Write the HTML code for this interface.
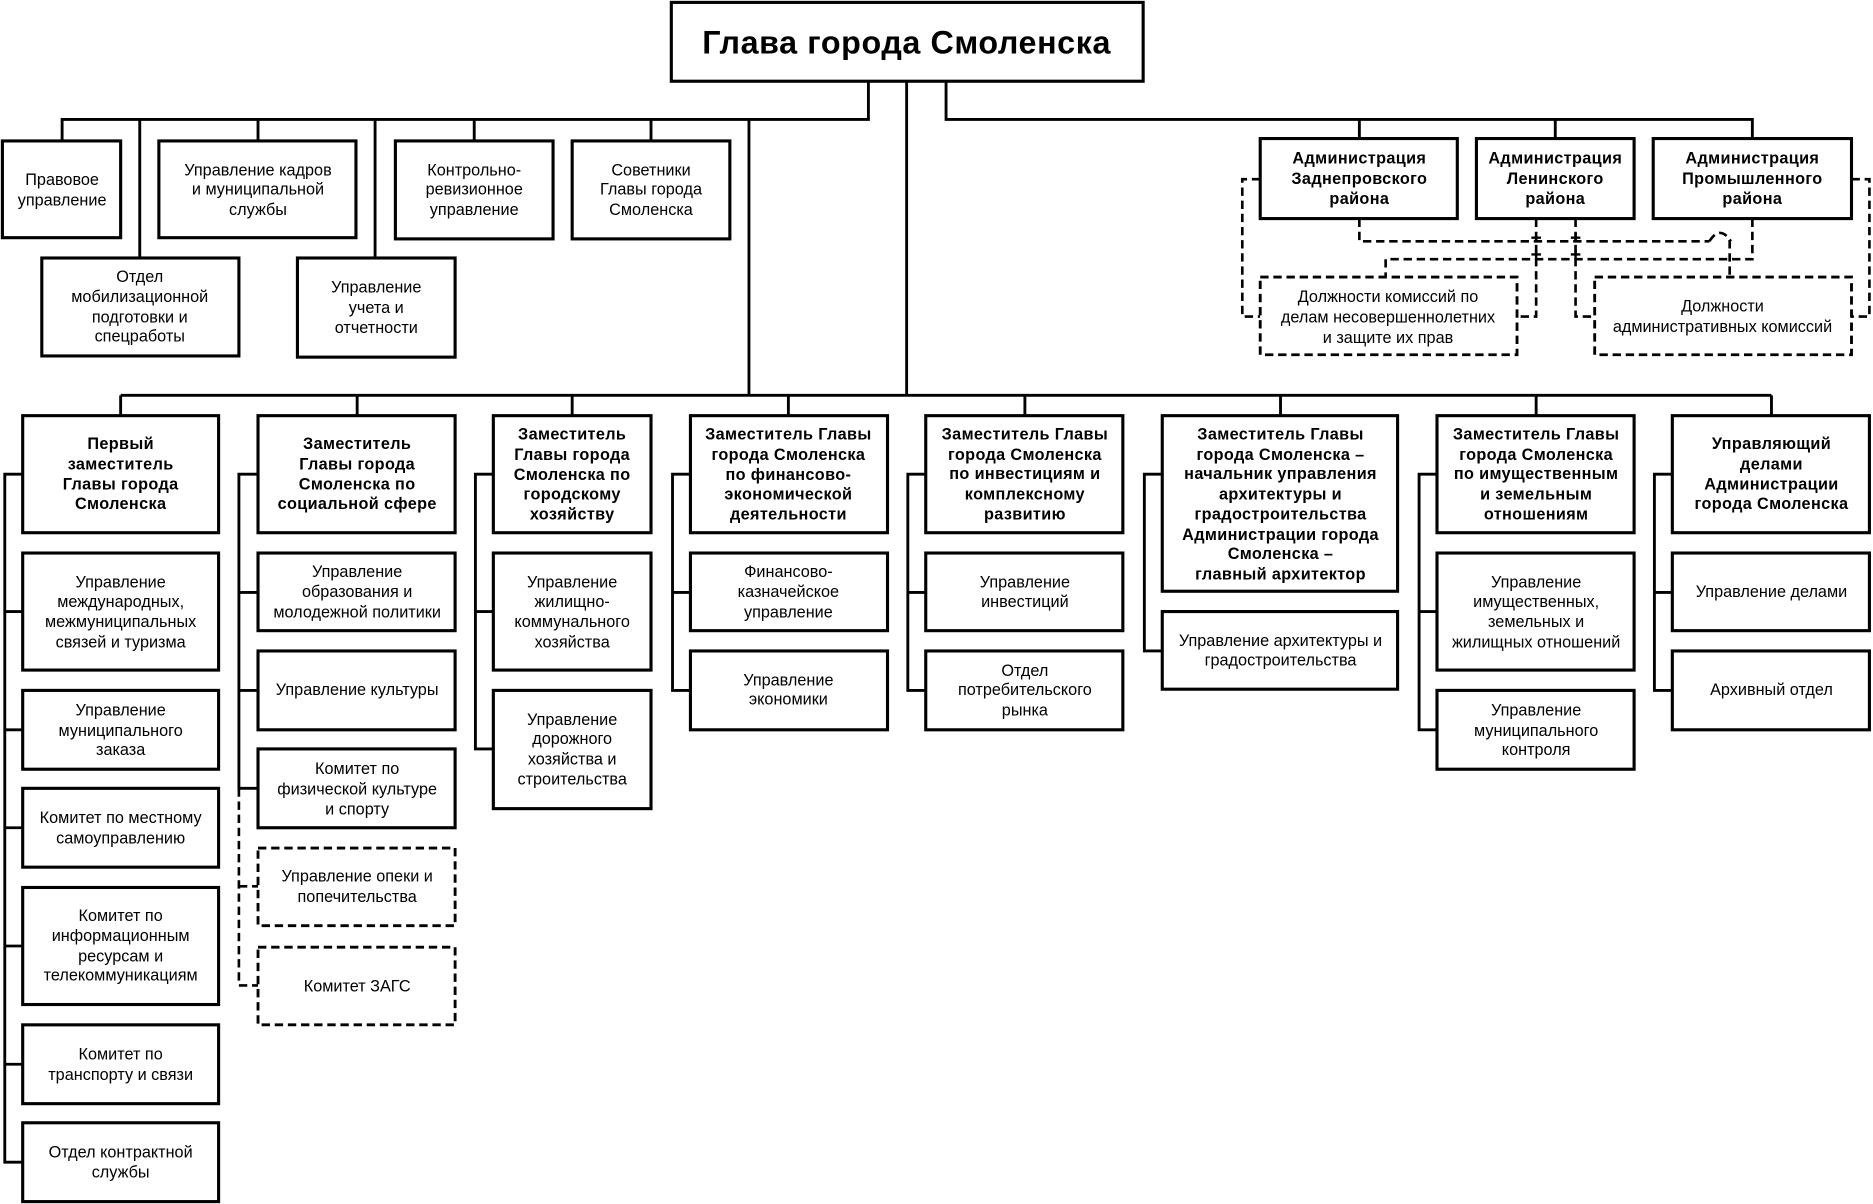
<!DOCTYPE html>
<html><head><meta charset="utf-8"><style>
html,body{margin:0;padding:0;background:#fff;width:1873px;height:1204px;overflow:hidden}
svg{display:block}
text{font-family:"Liberation Sans",Arial,sans-serif;font-size:13.6px;fill:#000;text-anchor:middle}
.b{font-weight:bold;letter-spacing:0.3px}
.bx{fill:#fff;stroke:#000;stroke-width:2.6}
.d{fill:#fff;stroke:#000;stroke-width:2.4;stroke-dasharray:7,4}
.l{fill:none;stroke:#000;stroke-width:2.4}
.dl{fill:none;stroke:#000;stroke-width:2.2;stroke-dasharray:7,4}
</style></head><body>
<svg width="1873" height="1204" viewBox="0 0 1568 1008" preserveAspectRatio="none">
<!-- top connectors -->
<path class="l" d="M727 68V100H52V118M117 100V216M216 100V118M314 100V216M397 100V118M545 100V118M627 100V331M759 68V331M792 68V100H1467V116M1138 100V116M1302 100V116"/>
<path class="l" d="M101 331H1483M101 331V348M299 331V348M479 331V348M660 331V348M858 331V348M1072 331V348M1286 331V348M1483 331V348"/>
<!-- spines -->
<path class="l" d="M19 397H4V973H19M4 512H19M4 611H19M4 693H19M4 792H19M4 891H19"/>
<path class="l" d="M216 397H200V660H216M200 496H216M200 578H216"/>
<path class="dl" d="M200 660V825H216M200 742H216"/>
<path class="l" d="M413 397H398V627H413M398 512H413"/>
<path class="l" d="M578 397H563V578H578M563 496H578"/>
<path class="l" d="M775 397H760V578H775M760 496H775"/>
<path class="l" d="M973 397H958V545H973"/>
<path class="l" d="M1203 397H1188V611H1203M1188 512H1203"/>
<path class="l" d="M1400 397H1385V578H1400M1385 496H1400"/>
<!-- right dashed connectors -->
<path class="dl" d="M1138 183V202H1431M1449 202H1448V232M1431 202q9 -14 18 0"/>
<path class="dl" d="M1467 183V217H1160V232"/>
<path class="dl" d="M1286 183V265H1270M1319 183V265H1335"/>
<path class="dl" d="M1055 150H1040V265H1055M1550 150H1565V265H1550"/>
<path d="M1282 199h8M1286 195v8M1315 199h8M1319 195v8M1282 213h8M1286 209v8M1315 213h8M1319 209v8" stroke="#000" stroke-width="2"/>
<!-- top box -->
<rect class="bx" x="562" y="2" width="395" height="66"/>
<text class="b" x="759" y="45" style="font-size:27px;letter-spacing:0.5px">Глава города Смоленска</text>
<!-- top-left boxes -->
<rect class="bx" x="2" y="118" width="99" height="81"/><text x="52" y="155">Правовое</text><text x="52" y="172">управление</text>
<rect class="bx" x="35" y="216" width="165" height="82"/><text x="117" y="236">Отдел</text><text x="117" y="253">мобилизационной</text><text x="117" y="270">подготовки и</text><text x="117" y="286">спецработы</text>
<rect class="bx" x="133" y="118" width="165" height="81"/><text x="216" y="147">Управление кадров</text><text x="216" y="163">и муниципальной</text><text x="216" y="180">службы</text>
<rect class="bx" x="249" y="216" width="132" height="83"/><text x="315" y="245">Управление</text><text x="315" y="262">учета и</text><text x="315" y="279">отчетности</text>
<rect class="bx" x="331" y="118" width="132" height="82"/><text x="397" y="147">Контрольно-</text><text x="397" y="163">ревизионное</text><text x="397" y="180">управление</text>
<rect class="bx" x="479" y="118" width="132" height="82"/><text x="545" y="147">Советники</text><text x="545" y="163">Главы города</text><text x="545" y="180">Смоленска</text>
<!-- districts -->
<rect class="bx" x="1055" y="116" width="165" height="67"/><text class="b" x="1138" y="137">Администрация</text><text class="b" x="1138" y="154">Заднепровского</text><text class="b" x="1138" y="171">района</text>
<rect class="bx" x="1236" y="116" width="132" height="67"/><text class="b" x="1302" y="137">Администрация</text><text class="b" x="1302" y="154">Ленинского</text><text class="b" x="1302" y="171">района</text>
<rect class="bx" x="1384" y="116" width="166" height="67"/><text class="b" x="1467" y="137">Администрация</text><text class="b" x="1467" y="154">Промышленного</text><text class="b" x="1467" y="171">района</text>
<rect class="d" x="1055" y="232" width="215" height="65"/><text x="1162" y="253">Должности комиссий по</text><text x="1162" y="270">делам несовершеннолетних</text><text x="1162" y="287">и защите их прав</text>
<rect class="d" x="1335" y="232" width="215" height="65"/><text x="1442" y="261">Должности</text><text x="1442" y="278">административных комиссий</text>
<!-- col1 -->
<rect class="bx" x="19" y="348" width="164" height="98"/><text class="b" x="101" y="376">Первый</text><text class="b" x="101" y="393">заместитель</text><text class="b" x="101" y="410">Главы города</text><text class="b" x="101" y="426">Смоленска</text>
<rect class="bx" x="19" y="463" width="164" height="98"/><text x="101" y="492">Управление</text><text x="101" y="508">международных,</text><text x="101" y="525">межмуниципальных</text><text x="101" y="542">связей и туризма</text>
<rect class="bx" x="19" y="578" width="164" height="66"/><text x="101" y="599">Управление</text><text x="101" y="616">муниципального</text><text x="101" y="632">заказа</text>
<rect class="bx" x="19" y="660" width="164" height="66"/><text x="101" y="689">Комитет по местному</text><text x="101" y="706">самоуправлению</text>
<rect class="bx" x="19" y="743" width="164" height="98"/><text x="101" y="771">Комитет по</text><text x="101" y="788">информационным</text><text x="101" y="805">ресурсам и</text><text x="101" y="821">телекоммуникациям</text>
<rect class="bx" x="19" y="858" width="164" height="66"/><text x="101" y="887">Комитет по</text><text x="101" y="904">транспорту и связи</text>
<rect class="bx" x="19" y="940" width="164" height="66"/><text x="101" y="969">Отдел контрактной</text><text x="101" y="986">службы</text>
<!-- col2 -->
<rect class="bx" x="216" y="348" width="165" height="98"/><text class="b" x="299" y="376">Заместитель</text><text class="b" x="299" y="393">Главы города</text><text class="b" x="299" y="410">Смоленска по</text><text class="b" x="299" y="426">социальной сфере</text>
<rect class="bx" x="216" y="463" width="165" height="65"/><text x="299" y="483">Управление</text><text x="299" y="500">образования и</text><text x="299" y="517">молодежной политики</text>
<rect class="bx" x="216" y="545" width="165" height="66"/><text x="299" y="582">Управление культуры</text>
<rect class="bx" x="216" y="627" width="165" height="66"/><text x="299" y="648">Комитет по</text><text x="299" y="665">физической культуре</text><text x="299" y="682">и спорту</text>
<rect class="d" x="216" y="710" width="165" height="65"/><text x="299" y="738">Управление опеки и</text><text x="299" y="755">попечительства</text>
<rect class="d" x="216" y="793" width="165" height="65"/><text x="299" y="830">Комитет ЗАГС</text>
<!-- col3 -->
<rect class="bx" x="413" y="348" width="132" height="98"/><text class="b" x="479" y="368">Заместитель</text><text class="b" x="479" y="385">Главы города</text><text class="b" x="479" y="402">Смоленска по</text><text class="b" x="479" y="418">городскому</text><text class="b" x="479" y="435">хозяйству</text>
<rect class="bx" x="413" y="463" width="132" height="98"/><text x="479" y="492">Управление</text><text x="479" y="508">жилищно-</text><text x="479" y="525">коммунального</text><text x="479" y="542">хозяйства</text>
<rect class="bx" x="413" y="578" width="132" height="99"/><text x="479" y="607">Управление</text><text x="479" y="623">дорожного</text><text x="479" y="640">хозяйства и</text><text x="479" y="657">строительства</text>
<!-- col4 -->
<rect class="bx" x="578" y="348" width="165" height="98"/><text class="b" x="660" y="368">Заместитель Главы</text><text class="b" x="660" y="385">города Смоленска</text><text class="b" x="660" y="402">по финансово-</text><text class="b" x="660" y="418">экономической</text><text class="b" x="660" y="435">деятельности</text>
<rect class="bx" x="578" y="463" width="165" height="65"/><text x="660" y="483">Финансово-</text><text x="660" y="500">казначейское</text><text x="660" y="517">управление</text>
<rect class="bx" x="578" y="545" width="165" height="66"/><text x="660" y="574">Управление</text><text x="660" y="590">экономики</text>
<!-- col5 -->
<rect class="bx" x="775" y="348" width="165" height="98"/><text class="b" x="858" y="368">Заместитель Главы</text><text class="b" x="858" y="385">города Смоленска</text><text class="b" x="858" y="401">по инвестициям и</text><text class="b" x="858" y="418">комплексному</text><text class="b" x="858" y="435">развитию</text>
<rect class="bx" x="775" y="463" width="165" height="65"/><text x="858" y="492">Управление</text><text x="858" y="508">инвестиций</text>
<rect class="bx" x="775" y="545" width="165" height="66"/><text x="858" y="566">Отдел</text><text x="858" y="582">потребительского</text><text x="858" y="599">рынка</text>
<!-- col6 -->
<rect class="bx" x="973" y="348" width="197" height="147"/><text class="b" x="1072" y="368">Заместитель Главы</text><text class="b" x="1072" y="385">города Смоленска –</text><text class="b" x="1072" y="401">начальник управления</text><text class="b" x="1072" y="418">архитектуры и</text><text class="b" x="1072" y="435">градостроительства</text><text class="b" x="1072" y="452">Администрации города</text><text class="b" x="1072" y="468">Смоленска –</text><text class="b" x="1072" y="485">главный архитектор</text>
<rect class="bx" x="973" y="512" width="197" height="65"/><text x="1072" y="541">Управление архитектуры и</text><text x="1072" y="557">градостроительства</text>
<!-- col7 -->
<rect class="bx" x="1203" y="348" width="165" height="98"/><text class="b" x="1286" y="368">Заместитель Главы</text><text class="b" x="1286" y="385">города Смоленска</text><text class="b" x="1286" y="401">по имущественным</text><text class="b" x="1286" y="418">и земельным</text><text class="b" x="1286" y="435">отношениям</text>
<rect class="bx" x="1203" y="463" width="165" height="98"/><text x="1286" y="492">Управление</text><text x="1286" y="508">имущественных,</text><text x="1286" y="525">земельных и</text><text x="1286" y="542">жилищных отношений</text>
<rect class="bx" x="1203" y="578" width="165" height="66"/><text x="1286" y="599">Управление</text><text x="1286" y="616">муниципального</text><text x="1286" y="632">контроля</text>
<!-- col8 -->
<rect class="bx" x="1400" y="348" width="165" height="98"/><text class="b" x="1483" y="376">Управляющий</text><text class="b" x="1483" y="393">делами</text><text class="b" x="1483" y="410">Администрации</text><text class="b" x="1483" y="426">города Смоленска</text>
<rect class="bx" x="1400" y="463" width="165" height="65"/><text x="1483" y="500">Управление делами</text>
<rect class="bx" x="1400" y="545" width="165" height="66"/><text x="1483" y="582">Архивный отдел</text>
</svg>
</body></html>
